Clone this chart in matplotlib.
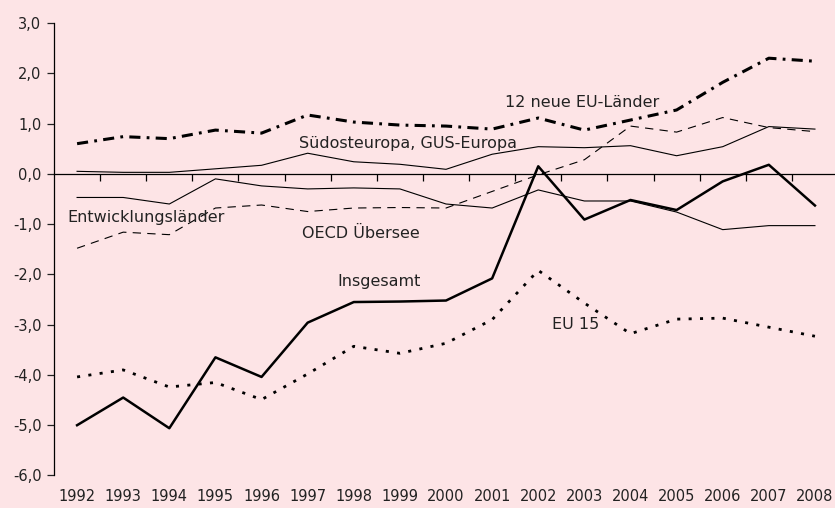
#!/usr/bin/env python3
# -*- coding: utf-8 -*-

"""
Saldo-Entwicklung nach Regionen, 1992-2008
"""

import numpy as np
import matplotlib
matplotlib.use('Agg')
import matplotlib.pyplot as plt
from matplotlib.ticker import FuncFormatter

years = list(range(1992, 2009))

insgesamt = [-5.00, -4.45, -5.06, -3.65, -4.04, -2.96, -2.55, -2.54, -2.52,
             -2.08, 0.15, -0.91, -0.52, -0.72, -0.15, 0.18, -0.63]
eu15 = [-4.04, -3.90, -4.24, -4.15, -4.49, -3.98, -3.43, -3.57, -3.37,
        -2.90, -1.92, -2.57, -3.18, -2.89, -2.87, -3.05, -3.23]
neue_eu12 = [0.60, 0.74, 0.70, 0.87, 0.81, 1.17, 1.03, 0.97, 0.95,
             0.89, 1.11, 0.87, 1.07, 1.27, 1.82, 2.30, 2.24]
suedost_gus = [0.05, 0.03, 0.03, 0.10, 0.17, 0.41, 0.24, 0.19, 0.09,
               0.39, 0.54, 0.52, 0.56, 0.36, 0.54, 0.94, 0.89]
oecd_uebersee = [-1.48, -1.16, -1.21, -0.68, -0.62, -0.75, -0.68, -0.67, -0.68,
                 -0.35, -0.02, 0.28, 0.95, 0.83, 1.12, 0.92, 0.84]
entwicklung = [-0.47, -0.47, -0.60, -0.10, -0.24, -0.30, -0.28, -0.30, -0.60,
               -0.68, -0.32, -0.54, -0.54, -0.76, -1.11, -1.03, -1.03]

y_ticks = [3.0, 2.0, 1.0, 0.0, -1.0, -2.0, -3.0, -4.0, -5.0, -6.0]

bg = '#FDE4E6'
plt.rcParams['font.family'] = ['DejaVu Sans']
plt.rcParams['lines.scale_dashes'] = False

fig = plt.figure(figsize=(8.35, 5.08), dpi=100, facecolor=bg)
ax = fig.add_axes([0.0647, 0.064, 0.9389, 0.8907])
ax.set_facecolor(bg)

ax.plot(years, suedost_gus, color='black', lw=0.8)
ax.plot(years, entwicklung, color='black', lw=0.8)
ax.plot(years, oecd_uebersee, color='black', lw=0.8, dashes=(6, 4.5))
ax.plot(years, neue_eu12, color='black', lw=2.2, dashes=(8, 4.5, 2, 4.5))
ax.plot(years, eu15, color='black', lw=2.0, dashes=(2.2, 6))
ax.plot(years, insgesamt, color='black', lw=1.8)

txt = dict(fontsize=11.5, color='#222222', va='center', ha='left')
ax.text(2001.27, 1.41, '12 neue EU-Länder', **txt)
ax.text(1996.82, 0.60, 'Südosteuropa, GUS-Europa', **txt)
ax.text(1991.78, -0.87, 'Entwicklungsländer', **txt)
ax.text(1996.88, -1.19, 'OECD Übersee', **txt)
ax.text(1997.64, -2.15, 'Insgesamt', **txt)
ax.text(2002.3, -3.0, 'EU 15', **txt)

ax.set_xlim(1991.5, 2008.5)
ax.set_ylim(-6.0, 3.0)

for s in ['top', 'right']:
    ax.spines[s].set_visible(False)
ax.spines['bottom'].set_position(('data', 0))
ax.spines['left'].set_linewidth(0.9)
ax.spines['bottom'].set_linewidth(0.9)

ax.set_yticks(y_ticks)
ax.yaxis.set_major_formatter(FuncFormatter(lambda v, p: ('%.1f' % v).replace('.', ',')))
ax.tick_params(axis='y', direction='out', length=5, width=0.9, labelsize=10.5,
               colors='#222222', pad=4)

ax.set_xticks(np.arange(1992.5, 2008.5, 1.0))
ax.tick_params(axis='x', direction='out', length=5, width=0.9, labelbottom=False)

sec = ax.secondary_xaxis('bottom')
sec.set_xticks(years)
sec.spines['bottom'].set_visible(False)
sec.tick_params(axis='x', length=0, pad=10, labelsize=10.5, colors='#222222')

fig.savefig('out.png', dpi=100, facecolor=bg)
